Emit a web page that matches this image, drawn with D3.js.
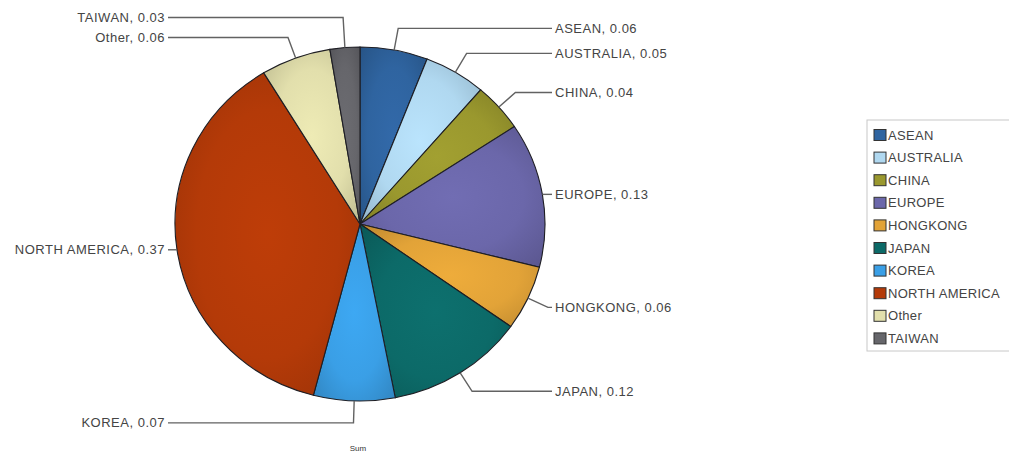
<!DOCTYPE html>
<html lang="en">
<head>
<meta charset="UTF-8">
<title>Sum by region</title>
<script src="https://d3js.org/d3.v7.min.js"></script>
<style>
  body { margin: 0; padding: 0; background: #fff; overflow: hidden; }
  text { font-family: "Liberation Sans", Arial, sans-serif; }
  .lbl { font-size: 13px; fill: #444; letter-spacing: 0.5px; }
  .leg { font-size: 13px; fill: #444; letter-spacing: 0.3px; }
</style>
</head>
<body>
<svg id="chart"></svg>
<script>
const regions = ["ASEAN", "AUSTRALIA", "CHINA", "EUROPE", "HONGKONG", "JAPAN", "KOREA", "NORTH AMERICA", "Other", "TAIWAN"];
// shares (labels show them rounded to 2 places)
const shares  = [0.059, 0.054, 0.044, 0.132, 0.059, 0.121, 0.071, 0.372, 0.061, 0.026];
const colours = ["#2f64a0", "#b0d8f0", "#9a982e", "#6b67aa", "#e2a338", "#0c6a68", "#3a9fe6", "#b43a08", "#e2dfac", "#66666b"];

const W = 1009, H = 458;
const cx = 360, cy = 224, rx = 185, ry = 177;

const svg = d3.select("#chart").attr("width", W).attr("height", H);
const defs = svg.append("defs");

colours.forEach((c, i) => {
  const g = defs.append("radialGradient")
    .attr("id", "grad" + i)
    .attr("cx", "50%").attr("cy", "50%").attr("r", "70%");
  g.append("stop").attr("offset", "0%").attr("stop-color", d3.color(c).brighter(0.15));
  g.append("stop").attr("offset", "55%").attr("stop-color", c);
  g.append("stop").attr("offset", "100%").attr("stop-color", d3.color(c).darker(0.5));
});

const data = regions.map((r, i) => ({ name: r, value: shares[i], i }));
const pie = d3.pie().sort(null).value(d => d.value);
const arcs = pie(data);
const arc = d3.arc().innerRadius(0).outerRadius(rx);

const pieG = svg.append("g")
  .attr("transform", `translate(${cx},${cy}) scale(1,${ry / rx})`);

pieG.selectAll("path")
  .data(arcs)
  .enter().append("path")
  .attr("d", arc)
  .attr("fill", d => `url(#grad${d.data.i})`)
  .attr("stroke", "#1e1e24")
  .attr("stroke-width", 1.1)
  .attr("vector-effect", "non-scaling-stroke");

// leader lines + labels
const rightX = cx + rx + 7, leftX = cx - rx - 7;
const ext = 22;
const labels = arcs.map(d => {
  const a = (d.startAngle + d.endAngle) / 2;
  const s = Math.sin(a), c = Math.cos(a);
  const p = [cx + rx * s, cy - ry * c];
  let e = [cx + (rx + ext) * s, cy - (ry + ext) * c];
  const side = a < Math.PI - 0.001 ? "right" : "left";
  const endX = side === "right" ? rightX : leftX;
  if ((side === "right" && e[0] > endX) || (side === "left" && e[0] < endX)) e = [p[0], p[1]];
  return { d, p, e, side, endX, y: e[1] };
});

// keep labels on one side at least 20px apart (push upward)
["left", "right"].forEach(side => {
  const list = labels.filter(l => l.side === side).sort((a, b) => b.y - a.y);
  for (let k = 1; k < list.length; k++) {
    if (list[k - 1].y - list[k].y < 20) list[k].y = list[k - 1].y - 20;
  }
});

const leaderG = svg.append("g");
labels.forEach(l => {
  const elbow = [l.e[0], l.y];
  leaderG.append("path")
    .attr("d", d3.line()([l.p, elbow, [l.endX, l.y]]))
    .attr("fill", "none")
    .attr("stroke", "#626262")
    .attr("stroke-width", 1.4);
  leaderG.append("text")
    .attr("class", "lbl")
    .attr("x", l.side === "right" ? l.endX + 3 : l.endX - 3)
    .attr("y", l.y)
    .attr("dy", "0.35em")
    .attr("text-anchor", l.side === "right" ? "start" : "end")
    .text(`${l.d.data.name}, ${d3.format(".2f")(l.d.data.value)}`);
});

svg.append("text")
  .attr("x", cx - 2).attr("y", 451)
  .attr("text-anchor", "middle")
  .style("font-size", "8px").style("fill", "#333")
  .text("Sum");

// legend
const legX = 867, legY = 120, rowH = 22.6;
svg.append("rect")
  .attr("x", legX).attr("y", legY)
  .attr("width", 170).attr("height", 231)
  .attr("fill", "#fff")
  .attr("stroke", "#c8c8c8")
  .attr("stroke-width", 1);

const legG = svg.append("g").attr("transform", `translate(${legX},${legY})`);
const rows = legG.selectAll("g.row")
  .data(data)
  .enter().append("g")
  .attr("class", "row")
  .attr("transform", (d, i) => `translate(0,${15 + i * rowH})`);

rows.append("rect")
  .attr("x", 7).attr("y", -5.5)
  .attr("width", 12).attr("height", 11)
  .attr("fill", d => colours[d.i])
  .attr("stroke", "#333")
  .attr("stroke-width", 1);

rows.append("text")
  .attr("class", "leg")
  .attr("x", 21).attr("dy", "0.36em")
  .text(d => d.name);
</script>
</body>
</html>
